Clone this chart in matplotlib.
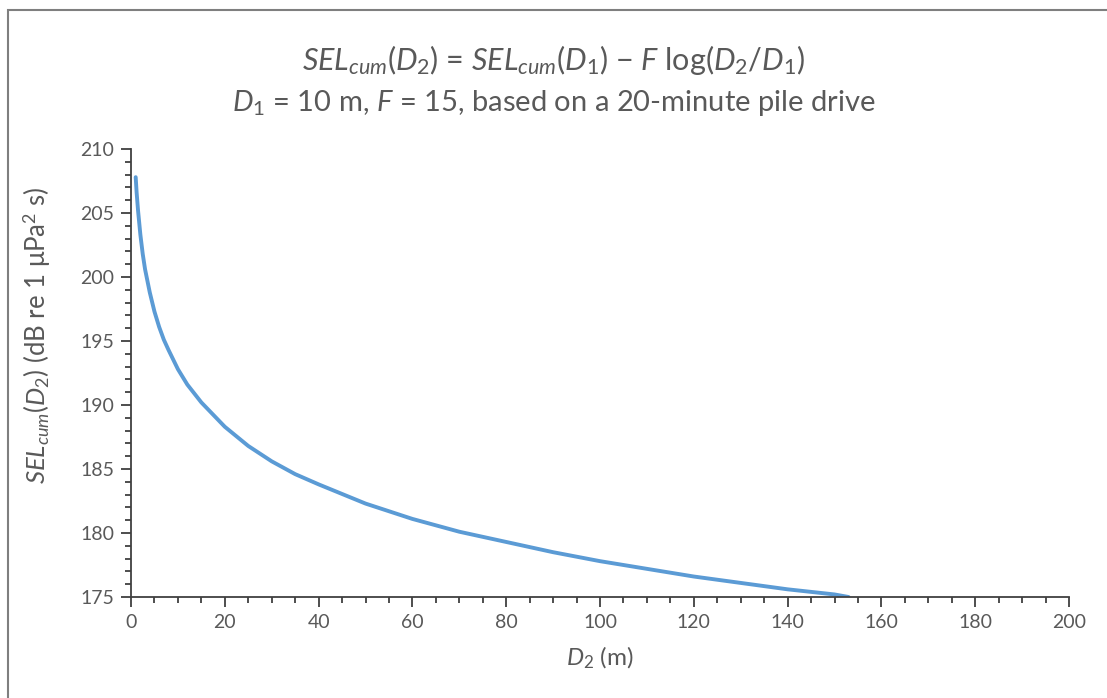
import matplotlib
matplotlib.use("Agg")
import matplotlib.pyplot as plt
from matplotlib.ticker import MultipleLocator
from matplotlib.patches import Rectangle

# values
d2_m = [1, 1.2, 1.5, 2, 2.5, 3, 4, 5, 6, 7, 8, 10, 12, 15, 20, 25, 30, 35, 40,
        50, 60, 70, 80, 90, 100, 110, 120, 130, 140, 150, 153]
sel_db = [207.8, 206.6, 205.2, 203.3, 201.8, 200.6, 198.8, 197.3, 196.1, 195.1,
          194.3, 192.8, 191.6, 190.2, 188.3, 186.8, 185.6, 184.6, 183.8,
          182.3, 181.1, 180.1, 179.3, 178.5, 177.8, 177.2, 176.6, 176.1,
          175.6, 175.2, 175.0]

plt.rcParams['font.family'] = ['Lato', 'DejaVu Sans']
plt.rcParams['mathtext.fontset'] = 'custom'
plt.rcParams['mathtext.rm'] = 'Lato'
plt.rcParams['mathtext.it'] = 'Lato:italic'
plt.rcParams['mathtext.default'] = 'it'

grey = '#595959'
axcol = '#404040'

fig = plt.figure(figsize=(11.07, 6.98), dpi=100)
ax = fig.add_axes([131 / 1107, 1 - 597 / 698, (1069 - 131) / 1107, (597 - 149) / 698])

ax.plot(d2_m, sel_db, color='#5B9BD5', lw=2.8, solid_capstyle='round')

ax.set_xlim(0, 200)
ax.set_ylim(175, 210)
ax.xaxis.set_major_locator(MultipleLocator(20))
ax.xaxis.set_minor_locator(MultipleLocator(5))
ax.yaxis.set_major_locator(MultipleLocator(5))
ax.yaxis.set_minor_locator(MultipleLocator(1))

for s in ['top', 'right']:
    ax.spines[s].set_visible(False)
for s in ['left', 'bottom']:
    ax.spines[s].set_color(axcol)
    ax.spines[s].set_linewidth(1.3)

ax.tick_params(which='major', length=7, width=1.3, color=axcol,
               labelcolor=grey, labelsize=14, pad=5)
ax.tick_params(which='minor', length=4, width=1.3, color=axcol)

ax.set_xlabel(r'$D_{2}$ (m)', fontsize=17.5, color=grey, labelpad=10)
ax.set_ylabel(r'$SEL_{cum}$($D_{2}$) (dB re 1 μPa$^{\mathrm{2}}$ s)',
              fontsize=18.5, color=grey)
ax.yaxis.set_label_coords(-0.083, 0.585)

fig.text(0.5, 1 - 60 / 698,
         r'$SEL_{cum}$($D_{2}$) = $SEL_{cum}$($D_{1}$) − $F$ log($D_{2}$/$D_{1}$)',
         ha='center', va='center', fontsize=22, color=grey)
fig.text(0.5, 1 - 103 / 698,
         r'$D_{1}$ = 10 m, $F$ = 15, based on a 20-minute pile drive',
         ha='center', va='center', fontsize=21, color=grey)

# chart-area border (top and left visible)
fig.patches.append(Rectangle((8 / 1107, -0.05), 1.2, 1 - 10 / 698 + 0.05,
                             transform=fig.transFigure, fill=False,
                             edgecolor='#7f7f7f', lw=1.5))

fig.savefig('out.png', dpi=100)
